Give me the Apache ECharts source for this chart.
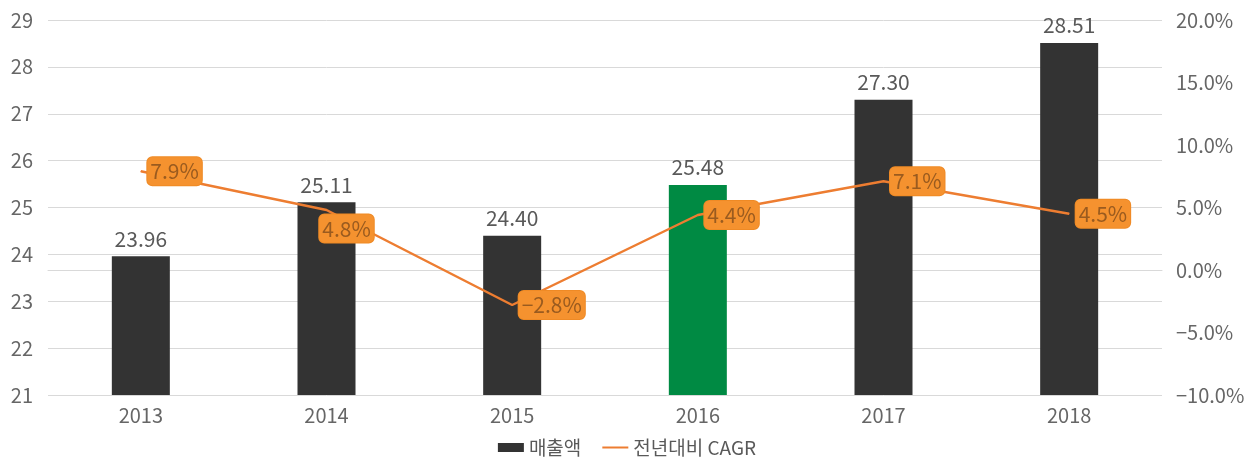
<!DOCTYPE html>
<html><head><meta charset="utf-8">
<script src="https://cdn.jsdelivr.net/npm/echarts@6/dist/echarts.min.js"></script>
<style>html,body{margin:0;padding:0;background:#fff}#c{width:1254px;height:459px}</style>
</head><body><div id="c"></div>
<script>
const categories = ['2013','2014','2015','2016','2017','2018'];
const sales = [23.96, 25.11, 24.40, 25.48, 27.30, 28.51];
const cagr = [7.9, 4.8, -2.8, 4.4, 7.1, 4.5];
const salesName = '매출액';
const cagrName = '전년대비 CAGR';
const highlightIndex = 3;

const font = '"Noto Sans CJK KR", "Noto Sans", sans-serif';
const pct = v => (v < 0 ? '\u2212' : '') + Math.abs(v).toFixed(1) + '%';
const chart = echarts.init(document.getElementById('c'));
chart.setOption({
  animation: false,
  textStyle: { fontFamily: font },
  grid: { left: 48, right: 92, top: 20, bottom: 64 },
  legend: {
    top: 433, left: 'center', itemGap: 20, itemWidth: 26, itemHeight: 9,
    textStyle: { fontSize: 19, color: '#595959', fontFamily: font },
    data: [{ name: salesName, icon: 'rect' }, { name: cagrName, itemStyle: { opacity: 0 } }]
  },
  xAxis: {
    type: 'category', data: categories,
    axisLine: { lineStyle: { color: '#d9d9d9', width: 1 } },
    axisTick: { show: false },
    axisLabel: { fontSize: 20, color: '#666666', margin: 10 }
  },
  yAxis: [
    { type: 'value', min: 21, max: 29, interval: 1,
      axisLine: { show: false }, axisTick: { show: false },
      axisLabel: { fontSize: 20, color: '#666666', margin: 15 },
      splitLine: { lineStyle: { color: '#d9d9d9', width: 1 } } },
    { type: 'value', min: -10, max: 20, interval: 5, position: 'right',
      axisLine: { show: false }, axisTick: { show: false },
      axisLabel: { fontSize: 20, color: '#666666', margin: 14, formatter: pct },
      splitLine: { show: false } }
  ],
  series: [
    { name: salesName, type: 'bar', yAxisIndex: 0, barWidth: 58,
      itemStyle: { color: '#333333' },
      data: sales.map((v, i) => i === highlightIndex ? { value: v, itemStyle: { color: '#008a43' } } : v),
      label: { show: true, position: 'top', distance: 7, fontSize: 21, color: '#595959', formatter: p => p.value.toFixed(2) } },
    { name: cagrName, type: 'line', yAxisIndex: 1, symbol: 'circle', symbolSize: 1, showSymbol: true,
      lineStyle: { color: '#ed7d31', width: 2.5 }, itemStyle: { color: '#ed7d31' },
      data: cagr.map((v, i) => i === 1 ? { value: v, label: { position: 'bottom', offset: [20, -2] } } : v),
      label: { show: true, position: 'right', distance: 6, fontSize: 21, color: '#9a5b1f',
        backgroundColor: '#f5922f', borderColor: '#ef8a25', borderWidth: 1, borderRadius: 5,
        padding: [4, 3, 3, 3], formatter: p => pct(p.value) } }
  ]
});
</script></body></html>
